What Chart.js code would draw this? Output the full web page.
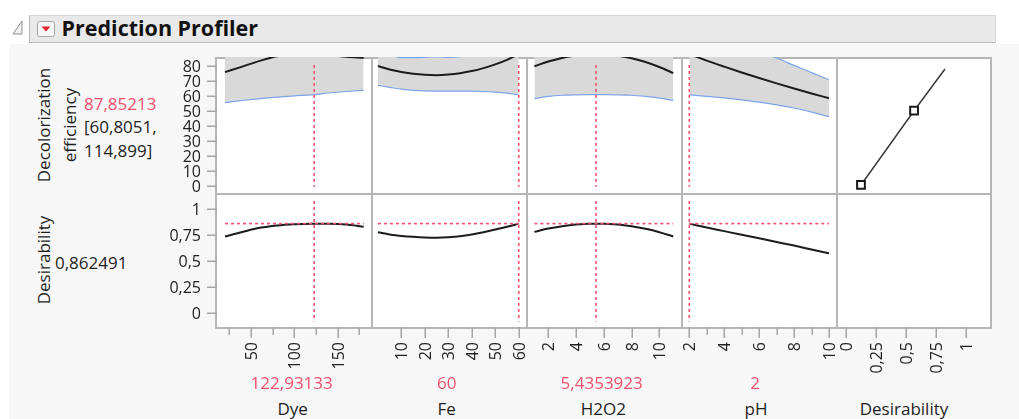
<!DOCTYPE html>
<html lang="en">
<head>
<meta charset="utf-8">
<title>Prediction Profiler</title>
<script src="https://cdn.jsdelivr.net/npm/chart.js@4.4.1/dist/chart.umd.min.js"></script>
<style>
  html, body { margin: 0; padding: 0; }
  body { position: relative; width: 1019px; height: 419px; overflow: hidden; background: #f7f7f7;
         font-family: "Open Sans", "Noto Sans", sans-serif; color: #1e1e1e; }
  .abs { position: absolute; }
  .txt { position: absolute; white-space: nowrap; line-height: 1; }
  .cell { position: absolute; }
  .cell canvas { display: block; }
</style>
</head>
<body>
<div class="abs" style="left:0;top:0;width:1019px;height:44px;background:#fff"></div>
<div class="abs" style="left:0;top:44px;width:9px;height:375px;background:#fff"></div>
<div class="abs" style="left:29px;top:15px;width:965px;height:26px;background:#e9e9e9;border-top:1px solid #d6d6d6;border-left:1px solid #b9b9b9;border-bottom:1px solid #b9b9b9;border-right:1px solid #d6d6d6"></div>
<svg class="abs" style="left:0;top:0" width="70" height="44">
  <polygon points="22,21 22,34 13,34" fill="#f2f2f2" stroke="#8c8c8c" stroke-width="1"/>
  <rect x="37.5" y="21.5" width="17" height="15" rx="2" fill="#f6f6f6" stroke="#a5a5a5"/>
  <polygon points="41.5,26.5 50.5,26.5 46,31.5" fill="#e3232f"/>
</svg>
<div class="abs" style="left:215px;top:57px;width:777px;height:272px;background:#b6b6b6"></div>
<div id="stage"></div>
<div id="labels"></div>
<script>
// ---- current factor settings and response ----------------------------
const currentDye = 122.93133;
const currentFe = 60;
const currentH2O2 = 5.4353923;
const currentPH = 2;
const currentResponse = 87.85213;
const currentLower = 60.8051;
const currentUpper = 114.899;
const currentDesirability = 0.862491;

// ---- Dye profile -----------------------------------------------------
const dyeLevels       = [20, 40, 60, 80, 100, 120, 140, 160, 180];
const dyeResponse     = [75.9, 79.6, 83.4, 86.5, 87.6, 87.85, 87.3, 86.1, 85.4];
const dyeLower        = [55.6, 57.0, 58.2, 59.2, 60.1, 60.75, 62.0, 63.0, 63.8];
const dyeUpper        = [96.2, 102.2, 108.6, 113.8, 115.1, 114.9, 112.6, 109.2, 107.0];
const dyeDesirability = [0.738, 0.782, 0.822, 0.845, 0.857, 0.862, 0.861, 0.853, 0.833];

// ---- Fe profile ------------------------------------------------------
const feLevels       = [0, 5, 8, 10, 15, 20, 25, 30, 35, 40, 45, 50, 55, 60];
const feResponse     = [80.0, 77.7, 76.6, 76.0, 74.8, 74.1, 73.9, 74.3, 75.2, 76.6, 78.6, 81.1, 84.1, 87.85];
const feLower        = [67.1, 65.8, 65.0, 64.6, 63.8, 63.4, 63.3, 63.3, 63.3, 63.2, 63.0, 62.6, 61.9, 60.8];
const feUpper        = [93.0, 89.4, 86.1, 85.6, 85.6, 85.8, 86.3, 85.8, 86.2, 90.0, 94.2, 99.6, 106.3, 114.9];
const feDesirability = [0.779, 0.758, 0.749, 0.744, 0.735, 0.729, 0.727, 0.731, 0.741, 0.758, 0.780, 0.805, 0.832, 0.8625];

// ---- H2O2 profile ----------------------------------------------------
const h2o2Levels       = [1, 2, 3, 4, 5, 6, 7, 8, 9, 10, 11];
const h2o2Response     = [79.8, 83.0, 85.4, 87.0, 87.77, 87.72, 86.85, 85.16, 82.65, 79.3, 75.3];
const h2o2Lower        = [58.3, 59.7, 60.5, 60.8, 60.9, 60.9, 60.8, 60.5, 59.7, 58.6, 57.1];
const h2o2Upper        = [101.3, 106.3, 110.3, 113.2, 114.6, 114.5, 112.9, 109.8, 105.6, 100.0, 93.5];
const h2o2Desirability = [0.783, 0.815, 0.838, 0.854, 0.8617, 0.8613, 0.853, 0.836, 0.812, 0.780, 0.739];

// ---- pH profile ------------------------------------------------------
const phLevels       = [2, 3, 4, 5, 6, 7, 8, 9, 10];
const phResponse     = [87.85, 83.6, 79.6, 75.7, 72.0, 68.4, 65.0, 61.7, 58.5];
const phLower        = [60.8, 59.8, 58.7, 57.4, 55.9, 54.1, 52.0, 49.3, 46.2];
const phUpper        = [114.9, 106.0, 99.0, 93.5, 89.5, 85.3, 80.4, 75.6, 70.8];
const phDesirability = [0.8625, 0.825, 0.790, 0.755, 0.721, 0.686, 0.651, 0.614, 0.577];

// ---- desirability function (desirability vs. response) ----------------
const dfDesirability = [0.127, 0.568, 0.825];
const dfResponse     = [0.7, 50.2, 78.0];

// ---- tick values and labels ------------------------------------------
const responseTicks       = [0, 10, 20, 30, 40, 50, 60, 70, 80];
const responseTickLabels  = ['0', '10', '20', '30', '40', '50', '60', '70', '80'];
const desirTicks          = [0, 0.25, 0.5, 0.75, 1];
const desirTickLabels     = ['0', '0,25', '0,5', '0,75', '1'];
const dyeTicks            = [25, 50, 75, 100, 125, 150, 175];
const dyeTickLabels       = ['', '50', '', '100', '', '150', ''];
const feTicks             = [10, 20, 30, 40, 50, 60];
const feTickLabels        = ['10', '20', '30', '40', '50', '60'];
const h2o2Ticks           = [2, 4, 6, 8, 10];
const h2o2TickLabels      = ['2', '4', '6', '8', '10'];
const phTicks             = [2, 3, 4, 5, 6, 7, 8, 9, 10];
const phTickLabels        = ['2', '', '4', '', '6', '', '8', '', '10'];

// ---- styling / geometry ----------------------------------------------
const FONT = '"Open Sans", "Noto Sans", sans-serif';
const RED = '#f0506e';
const BAND = '#d9d9d9';
const CI_BLUE = '#7ba3ec';
const CURVE = '#1c1c1c';
const TICK_GRAY = '#a6a6a6';
const AXIS_W = 50, AXIS_H = 50;
const COLS = [[217, 371], [373, 526], [528, 681], [683, 836], [838, 990]];
const ROWS = [[57, 193], [195, 327]];
const RESPONSE_RANGE = [-4.67, 86];
const DESIR_RANGE = [-0.1317, 1.1375];

Chart.defaults.font.family = FONT;

// white plotting surface inside the frame lines
const panelFill = {
  id: 'panelFill',
  beforeDraw(chart, args, o) {
    const a = chart.chartArea, ctx = chart.ctx;
    const inset = o.topInset || 0;
    ctx.save();
    ctx.fillStyle = '#ffffff';
    ctx.fillRect(a.left, a.top + inset, a.right - a.left, a.bottom - a.top - inset);
    ctx.restore();
  }
};

// tick marks and tick labels placed with the chart's own scales
const axisMarks = {
  id: 'axisMarks',
  afterDraw(chart, args, o) {
    const ctx = chart.ctx, a = chart.chartArea;
    ctx.save();
    ctx.strokeStyle = TICK_GRAY;
    ctx.lineWidth = 1.5;
    ctx.fillStyle = '#222';
    ctx.font = '16px ' + FONT;
    if (o.x) {
      const s = chart.scales.x;
      o.x.ticks.forEach((v, i) => {
        const px = Math.round(s.getPixelForValue(v)) + 0.25;
        const lab = o.x.labels[i];
        const len = lab ? 11 : 8;
        ctx.beginPath(); ctx.moveTo(px, a.bottom); ctx.lineTo(px, a.bottom + len); ctx.stroke();
        if (lab) {
          ctx.save();
          ctx.translate(px, a.bottom + 15);
          ctx.rotate(-Math.PI / 2);
          ctx.textAlign = 'right';
          ctx.textBaseline = 'middle';
          ctx.fillText(lab, 0, 1);
          ctx.restore();
        }
      });
    }
    if (o.y) {
      const s = chart.scales.y;
      o.y.ticks.forEach((v, i) => {
        const py = Math.round(s.getPixelForValue(v)) + 0.25;
        ctx.beginPath(); ctx.moveTo(a.left - 10, py); ctx.lineTo(a.left, py); ctx.stroke();
        ctx.textAlign = 'right';
        ctx.textBaseline = 'middle';
        ctx.fillText(o.y.labels[i], a.left - 16, py + 1);
      });
    }
    ctx.restore();
  }
};

const pts = (xs, ys) => xs.map((x, i) => ({ x, y: ys[i] }));

function makeChart({ col, row, xRange, xTicks, xLabels, datasets }) {
  const showY = col === 0, showX = row === 1;
  const [l, r] = COLS[col];
  const [t, b] = ROWS[row];
  const left = showY ? l - AXIS_W : l;
  const width = r - left;
  const height = (b - t) + (showX ? AXIS_H : 0);
  const box = document.createElement('div');
  box.className = 'cell';
  box.style.cssText = `left:${left}px;top:${t}px;width:${width}px;height:${height}px`;
  const cv = document.createElement('canvas');
  cv.width = width; cv.height = height;
  cv.style.width = width + 'px'; cv.style.height = height + 'px';
  box.appendChild(cv);
  document.getElementById('stage').appendChild(box);
  const yRange = row === 0 ? RESPONSE_RANGE : DESIR_RANGE;
  return new Chart(cv, {
    type: 'line',
    data: { datasets },
    options: {
      responsive: false, maintainAspectRatio: false, animation: false, devicePixelRatio: 1, events: [],
      layout: { autoPadding: false,
                padding: { left: showY ? AXIS_W : 0, bottom: showX ? AXIS_H : 0, top: 0, right: 0 } },
      elements: {
        point: { radius: 0 },
        line: { tension: 0.4, cubicInterpolationMode: 'monotone', fill: false }
      },
      plugins: {
        legend: { display: false }, tooltip: { enabled: false },
        filler: { drawTime: 'beforeDatasetsDraw' },
        panelFill: { topInset: row === 0 ? 2 : 0 },
        axisMarks: {
          x: showX ? { ticks: xTicks, labels: xLabels } : null,
          y: showY ? (row === 0 ? { ticks: responseTicks, labels: responseTickLabels }
                                : { ticks: desirTicks, labels: desirTickLabels }) : null
        }
      },
      scales: {
        x: { type: 'linear', min: xRange[0], max: xRange[1], display: false },
        y: { type: 'linear', min: yRange[0], max: yRange[1], display: false }
      }
    },
    plugins: [panelFill, axisMarks]
  });
}

const dashed = (data, order) => ({
  data, borderColor: RED, borderWidth: 1.6, borderDash: [3, 3],
  tension: 0, cubicInterpolationMode: 'default', order
});

function responseSets(levels, lower, upper, resp, current) {
  return [
    { data: pts(levels, upper), borderColor: CI_BLUE, borderWidth: 1.2, fill: '+1', backgroundColor: BAND, order: 3 },
    { data: pts(levels, lower), borderColor: CI_BLUE, borderWidth: 1.2, order: 2 },
    { data: pts(levels, resp), borderColor: CURVE, borderWidth: 2, order: 1 },
    dashed([{ x: current, y: 80.7 }, { x: current, y: -0.5 }], 0)
  ];
}

function desirabilitySets(levels, desir, current) {
  return [
    { data: pts(levels, desir), borderColor: CURVE, borderWidth: 2, order: 2 },
    dashed([{ x: levels[0], y: currentDesirability }, { x: levels[levels.length - 1], y: currentDesirability }], 1),
    dashed([{ x: current, y: 1.08 }, { x: current, y: -0.08 }], 0)
  ];
}

const factors = [
  { levels: dyeLevels, resp: dyeResponse, lower: dyeLower, upper: dyeUpper, desir: dyeDesirability,
    current: currentDye, range: [10.8, 188.5], ticks: dyeTicks, labels: dyeTickLabels },
  { levels: feLevels, resp: feResponse, lower: feLower, upper: feUpper, desir: feDesirability,
    current: currentFe, range: [-2.1, 63.1], ticks: feTicks, labels: feTickLabels },
  { levels: h2o2Levels, resp: h2o2Response, lower: h2o2Lower, upper: h2o2Upper, desir: h2o2Desirability,
    current: currentH2O2, range: [0.537, 11.56], ticks: h2o2Ticks, labels: h2o2TickLabels },
  { levels: phLevels, resp: phResponse, lower: phLower, upper: phUpper, desir: phDesirability,
    current: currentPH, range: [1.64, 10.40], ticks: phTicks, labels: phTickLabels }
];

factors.forEach((f, c) => {
  makeChart({ col: c, row: 0, xRange: f.range, xTicks: f.ticks, xLabels: f.labels,
              datasets: responseSets(f.levels, f.lower, f.upper, f.resp, f.current) });
  makeChart({ col: c, row: 1, xRange: f.range, xTicks: f.ticks, xLabels: f.labels,
              datasets: desirabilitySets(f.levels, f.desir, f.current) });
});

// desirability column
const desirRange = [-0.064, 1.199];
makeChart({ col: 4, row: 0, xRange: desirRange, xTicks: desirTicks, xLabels: desirTickLabels,
  datasets: [{
    data: pts(dfDesirability, dfResponse), borderColor: '#3a3a3a', borderWidth: 1.5,
    tension: 0, cubicInterpolationMode: 'default',
    pointStyle: 'rect', pointRadius: [5.5, 5.5, 0], pointBorderWidth: 2,
    pointBorderColor: '#1a1a1a', pointBackgroundColor: '#ffffff'
  }] });
makeChart({ col: 4, row: 1, xRange: desirRange, xTicks: desirTicks, xLabels: desirTickLabels, datasets: [] });

// ---- text ------------------------------------------------------------
const fmt = v => String(v).replace('.', ',');
function text(str, x, y, o = {}) {
  const d = document.createElement('div');
  d.className = 'txt';
  d.textContent = str;
  d.style.left = x + 'px';
  d.style.top = y + 'px';
  d.style.fontSize = (o.size || 17) + 'px';
  d.style.color = o.color || '#1e1e1e';
  if (o.weight) d.style.fontWeight = o.weight;
  const tx = o.align === 'left' ? '0' : '-50%';
  d.style.transform = `translate(${tx}, -50%)` + (o.rotate ? ` rotate(${o.rotate}deg)` : '');
  document.getElementById('labels').appendChild(d);
}

text('Prediction Profiler', 61.5, 28.3, { size: 21.5, weight: 700, align: 'left', color: '#111' });

text('Decolorization', 43, 125, { rotate: -90 });
text('efficiency', 69, 125, { rotate: -90 });
text(fmt(currentResponse), 84, 102.5, { align: 'left', color: RED });
text('[' + fmt(currentLower) + ',', 84, 126, { align: 'left' });
text(fmt(currentUpper) + ']', 84, 149.5, { align: 'left' });

text('Desirability', 43, 260, { rotate: -90 });
text(fmt(currentDesirability), 55, 262.2, { align: 'left' });

text(fmt(currentDye), 291.7, 381.7, { color: RED });
text(fmt(currentFe), 446.7, 381.7, { color: RED });
text(fmt(currentH2O2), 601.7, 381.7, { color: RED });
text(fmt(currentPH), 755, 381.7, { color: RED });

text('Dye', 292.7, 408.3);
text('Fe', 446.7, 408.3);
text('H2O2', 603.3, 408.3);
text('pH', 756, 408.3);
text('Desirability', 904, 408.3);
</script>
</body>
</html>
